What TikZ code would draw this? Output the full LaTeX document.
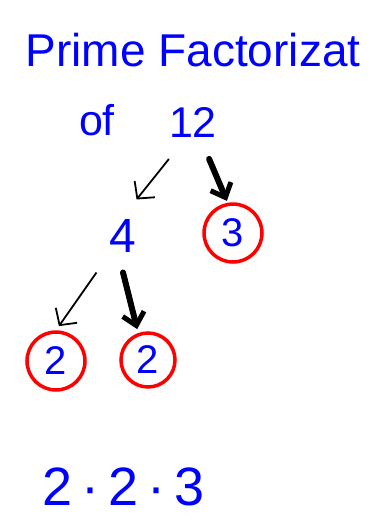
\documentclass[tikz,border=0pt]{standalone}
\usepackage{fontspec}
\setmainfont{Liberation Sans}
\usetikzlibrary{arrows.meta,positioning}
\definecolor{ink}{rgb}{0,0,1}
\definecolor{circred}{rgb}{1,0,0}

\begin{document}
\begin{tikzpicture}[x=1pt,y=-1pt,% one unit is one pixel of the sheet, y runs down
			every node/.style={
				text=ink,		% all the writing is blue
				inner sep=0pt
			},
			fsize/.style={font=\fontsize{#1}{#1}\selectfont},
			ring/.style={circle,draw=circred,line width=3.5pt,minimum size=#1},
			thinarrow/.style={draw=black,line width=1.8pt,-{Straight Barb[length=12pt,width=26pt,line width=1.8pt]}},
			thickarrow/.style={draw=black,line width=6pt,line cap=round,-{Straight Barb[length=12pt,width=22pt,line width=5pt]}}
		]
		\useasboundingbox (0,0) rectangle (382,522);
		\node[fsize=46](title) at (193,50){Prime Factorizat};
		\node[fsize=43](of) at (97,120){of};
		\node[fsize=43,outer ysep=22pt](twelve) at (193,122){12};
		\node[fsize=48,outer ysep=20pt](four) at (123,236){4};
		\node[ring=58pt,fsize=40](three) at (233,233){3};
		\node[ring=58pt,fsize=40](twoL) at (56,361){2};
		\node[ring=54pt,fsize=40](twoR) at (148,360){2};
		\node[fsize=54](result) at (124,487){2\,·\,2\,·\,3};
		% factor tree
		\draw[thinarrow] (twelve.south west) -- (four.north east);
		\draw[thickarrow,shorten >=2pt] ([xshift=-8pt]twelve.south east) -- (three.100);
		\draw[thinarrow,shorten >=5pt] ([xshift=-13pt]four.south west) -- (twoL.north);
		\draw[thickarrow,shorten >=4pt] (four.south) -- (twoR.110);
	\end{tikzpicture}
\end{document}
